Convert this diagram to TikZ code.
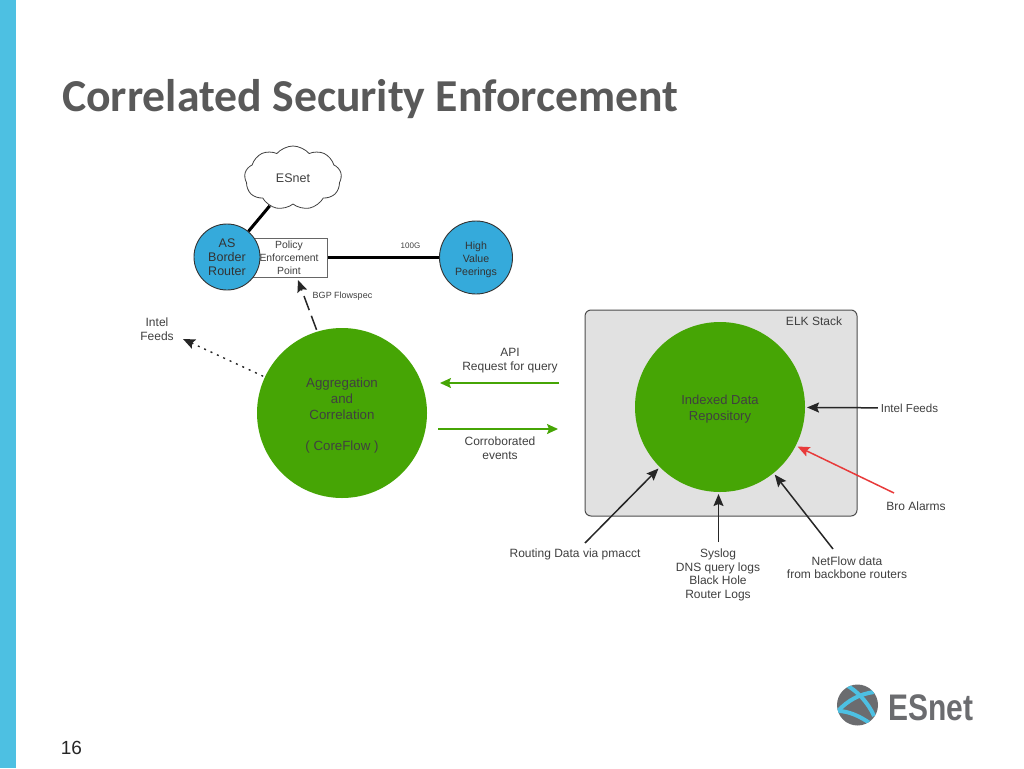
\documentclass[tikz,border=0pt]{standalone}
\usepackage{fontspec}
\setmainfont{Liberation Sans}
\newfontfamily\titlefont{Carlito}
\usetikzlibrary{calc}
\usetikzlibrary{arrows.meta}
\usetikzlibrary{shapes.symbols}
\definecolor{sidebarblue}{HTML}{4DC0E2}
\definecolor{routerblue}{HTML}{35AADB}
\definecolor{coregreen}{HTML}{46A505}
\definecolor{boxgrey}{HTML}{E1E1E1}
\definecolor{textgrey}{HTML}{3F3F3F}
\definecolor{titlegrey}{HTML}{595959}
\definecolor{logogrey}{HTML}{6B6C6F}
\definecolor{alarmred}{HTML}{E83A3A}
\tikzstyle{bluenode} = [draw=black!80, fill=routerblue, circle, line width=0.9pt, inner sep=0, align=center, text=black!80]
\tikzstyle{greennode} = [fill=coregreen, circle, inner sep=0, outer sep=2pt, minimum size=170pt, align=center, text=black!75, font=\fontsize{13.3}{15.7}\selectfont]
\tikzstyle{lblnode} = [inner sep=0, align=center, text=textgrey, font=\fontsize{12}{13.5}\selectfont]
\tikzstyle{feed} = [-{Stealth[length=12pt,width=10pt,inset=2pt]}, line width=1.5pt, black!85]
\tikzstyle{flow} = [-{Stealth[length=11pt,width=10pt,inset=2pt]}, line width=1.6pt, coregreen]
\begin{document}
\begin{tikzpicture}[x=1pt, y=-1pt, font=\fontsize{12.5}{15}\selectfont]
    \useasboundingbox (0,0) rectangle (1024,768);
    \fill[sidebarblue] (0,0) rectangle (15.5,768);
    \node[anchor=base west, inner sep=0, text=titlegrey, font=\titlefont\bfseries\fontsize{45.7}{50}\selectfont] (title) at (62,111) {Correlated Security Enforcement};

    % top network
    \node[draw=black!75, cloud, cloud puffs=9, cloud puff arc=100, aspect=1.6, minimum width=97pt, minimum height=64pt, inner sep=0, line width=0.8pt, text=textgrey] (esnet) at (293,178) {ESnet};
    \node[draw=black!60, fill=white, line width=0.8pt, minimum width=77pt, minimum height=39pt, inner sep=0, align=center, text=textgrey, font=\fontsize{10.4}{12.8}\selectfont] (policy) at (289,257.5) {Policy\\Enforcement\\Point};
    \node[bluenode, minimum size=66pt, font=\fontsize{12.5}{13.8}\selectfont] (as_router) at (227,257) {AS\\Border\\Router};
    \node[bluenode, minimum size=73pt, font=\fontsize{10.6}{13}\selectfont] (high_value) at (476,257.5) {\rule{0pt}{12pt}High\\Value\\Peerings};
    \draw[line width=3pt, black] (as_router) -- (esnet);
    \draw[line width=3pt, black] (policy) -- (high_value);
    \node[lblnode, font=\fontsize{8}{10}\selectfont] (link_lbl) at (410.5,246) {100G};
    \node[lblnode, font=\fontsize{9}{11}\selectfont] (bgp_lbl) at (342.5,296) {BGP Flowspec};

    % correlation side
    \node[greennode] (core) at (342,413) {\rule{0pt}{15pt}Aggregation\\and\\Correlation\\[15.7pt]( CoreFlow )};
    \node[lblnode] (intel_left) at (157,329) {Intel\\Feeds};
    \coordinate (dot_tip) at (183,339);
    \coordinate (flow_tip) at (298,280);
    \draw[-{Stealth[length=12pt,width=10pt,inset=2pt]}, line width=1.4pt, dash pattern=on 2pt off 5pt, black!85] (core.155) -- (dot_tip);
    \draw[-{Stealth[length=12pt,width=10pt,inset=2pt]}, line width=1.5pt, dash pattern=on 15pt off 6pt, black!85] (core.107) -- (flow_tip);

    % elk stack
    \node[draw=black!70, fill=boxgrey, rounded corners=6pt, line width=1pt, minimum width=272pt, minimum height=206pt, inner sep=0] (elk) at (721,413) {};
    \node[lblnode] (elk_lbl) at (814,321) {ELK Stack};
    \node[greennode, font=\fontsize{13}{16}\selectfont] (repo) at (720,407) {\rule{0pt}{14pt}Indexed Data\\Repository};

    \node[lblnode] (api_lbl) at (510,360.5) {API\\Request for query};
    \node[lblnode] (events_lbl) at (500,448) {Corroborated\\events};
    \coordinate (api_start) at (559,383);
    \coordinate (api_end) at (440,383);
    \coordinate (events_start) at (438,429);
    \coordinate (events_end) at (558,429);
    \draw[flow] (api_start) -- (api_end);
    \draw[flow] (events_start) -- (events_end);

    % data sources
    \node[lblnode, font=\fontsize{11.6}{13}\selectfont, outer sep=3pt] (intel_right) at (909.5,408) {Intel Feeds};
    \node[lblnode] (bro) at (916,506) {Bro Alarms};
    \node[lblnode] (routing) at (575,554) {Routing Data via pmacct};
    \node[lblnode] (syslog) at (718,575) {Syslog\\DNS query logs\\Black Hole\\Router Logs};
    \node[lblnode] (netflow) at (847,567.5) {NetFlow data\\from backbone routers};
    \coordinate (routing_start) at (585,543);
    \coordinate (syslog_start) at (718.5,542);
    \coordinate (netflow_start) at (833,549);
    \coordinate (bro_start) at (894,493);
    \draw[feed] (intel_right) -- (repo);
    \draw[feed, alarmred] (bro_start) -- (repo.-27);
    \draw[feed] (routing_start) -- (repo.225);
    \draw[feed] (syslog_start) -- (syslog_start |- repo.south);
    \draw[feed] (netflow_start) -- (repo.-51);

    % footer
    \node[anchor=base, inner sep=0, text=black!85, font=\fontsize{19}{20}\selectfont] (page_no) at (71.5,754) {16};
    \node[circle, fill=logogrey, minimum size=41pt, inner sep=0] (globe) at (857.5,705) {};
    \begin{scope}[sidebarblue, line width=4pt]
        \clip (857.5,705) circle (20.5);
        \draw (846,685) .. controls (856,690) and (868,702) .. (874,716);
        \draw (874,692) .. controls (860,694) and (848,700) .. (838,711);
        \draw (838,711) .. controls (848,711) and (860,716) .. (871,724);
    \end{scope}
    \node[anchor=base west, inner sep=0, text=logogrey, font=\fontsize{37}{40}\selectfont\bfseries] (logo_txt) at (888,720) {\scalebox{.81}[1]{ESnet}};
\end{tikzpicture}
\end{document}
